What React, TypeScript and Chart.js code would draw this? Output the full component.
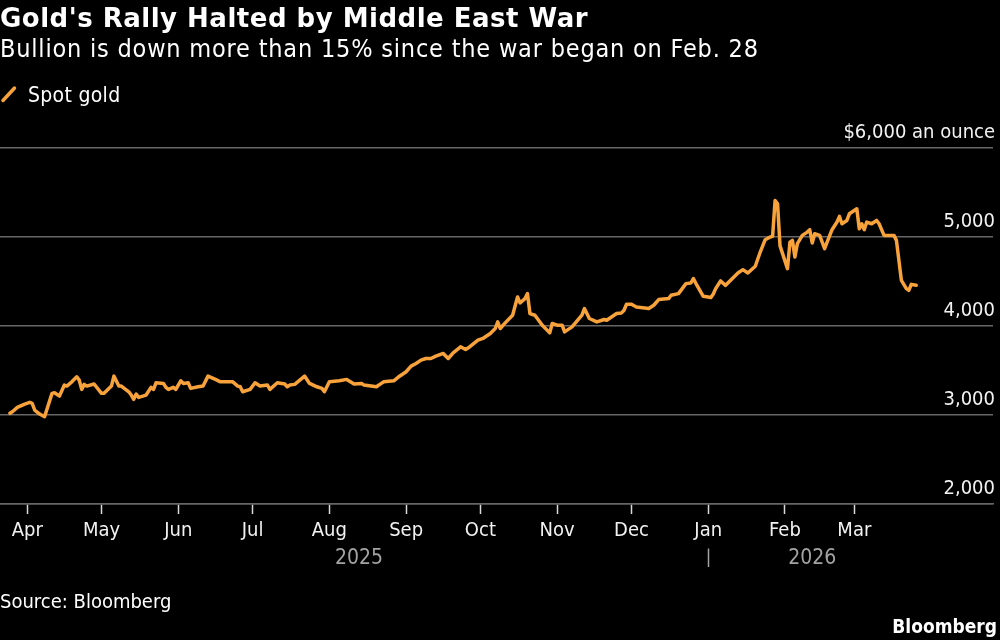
import React, { useEffect, useRef } from "react";
import { Chart, registerables } from "chart.js";

Chart.register(...registerables);

// ---------- DATA ----------
const dates: string[] = [
  "2025-03-25", "2025-03-26", "2025-03-28", "2025-03-31", "2025-04-02", "2025-04-03", "2025-04-04",
  "2025-04-06", "2025-04-08", "2025-04-11", "2025-04-12", "2025-04-14", "2025-04-16", "2025-04-17",
  "2025-04-19", "2025-04-21", "2025-04-22", "2025-04-23", "2025-04-24", "2025-04-25", "2025-04-28",
  "2025-05-01", "2025-05-02", "2025-05-05", "2025-05-06", "2025-05-08", "2025-05-09", "2025-05-12",
  "2025-05-13", "2025-05-14", "2025-05-15", "2025-05-16", "2025-05-19", "2025-05-21", "2025-05-22",
  "2025-05-23", "2025-05-26", "2025-05-27", "2025-05-28", "2025-05-30", "2025-05-31", "2025-06-02",
  "2025-06-03", "2025-06-05", "2025-06-06", "2025-06-09", "2025-06-11", "2025-06-13", "2025-06-16",
  "2025-06-18", "2025-06-23", "2025-06-25", "2025-06-26", "2025-06-27", "2025-06-30", "2025-07-02",
  "2025-07-04", "2025-07-07", "2025-07-08", "2025-07-11", "2025-07-14", "2025-07-15", "2025-07-16",
  "2025-07-18", "2025-07-22", "2025-07-24", "2025-07-27", "2025-07-29", "2025-07-30", "2025-08-01",
  "2025-08-05", "2025-08-08", "2025-08-11", "2025-08-14", "2025-08-15", "2025-08-20", "2025-08-22",
  "2025-08-23", "2025-08-27", "2025-08-29", "2025-08-31", "2025-09-01", "2025-09-03", "2025-09-05",
  "2025-09-07", "2025-09-09", "2025-09-11", "2025-09-13", "2025-09-16", "2025-09-18", "2025-09-20",
  "2025-09-23", "2025-09-25", "2025-09-26", "2025-09-30", "2025-10-02", "2025-10-05", "2025-10-07",
  "2025-10-08", "2025-10-09", "2025-10-11", "2025-10-14", "2025-10-16", "2025-10-17", "2025-10-19",
  "2025-10-20", "2025-10-21", "2025-10-23", "2025-10-26", "2025-10-29", "2025-10-30", "2025-11-01",
  "2025-11-03", "2025-11-04", "2025-11-07", "2025-11-11", "2025-11-12", "2025-11-14", "2025-11-17",
  "2025-11-20", "2025-11-21", "2025-11-25", "2025-11-27", "2025-11-28", "2025-11-29", "2025-12-01",
  "2025-12-03", "2025-12-08", "2025-12-10", "2025-12-12", "2025-12-16", "2025-12-17", "2025-12-20",
  "2025-12-23", "2025-12-25", "2025-12-26", "2025-12-27", "2025-12-30", "2026-01-01", "2026-01-02",
  "2026-01-03", "2026-01-04", "2026-01-06", "2026-01-08", "2026-01-13", "2026-01-15", "2026-01-17",
  "2026-01-20", "2026-01-22", "2026-01-24", "2026-01-26", "2026-01-27", "2026-01-28", "2026-01-29",
  "2026-01-30", "2026-02-02", "2026-02-03", "2026-02-04", "2026-02-05", "2026-02-06", "2026-02-08",
  "2026-02-10", "2026-02-11", "2026-02-12", "2026-02-13", "2026-02-15", "2026-02-17", "2026-02-18",
  "2026-02-20", "2026-02-22", "2026-02-23", "2026-02-24", "2026-02-26", "2026-02-27", "2026-03-02",
  "2026-03-03", "2026-03-04", "2026-03-05", "2026-03-06", "2026-03-08", "2026-03-10", "2026-03-11",
  "2026-03-13", "2026-03-17", "2026-03-18", "2026-03-20", "2026-03-22", "2026-03-23", "2026-03-24",
  "2026-03-26",
];

const spotGold: number[] = [
  3019, 3037, 3086, 3123, 3142, 3131, 3056,
  3011, 2981, 3243, 3250, 3213, 3336, 3325,
  3373, 3429, 3392, 3288, 3344, 3325, 3348,
  3243, 3243, 3325, 3437, 3325, 3325, 3261,
  3224, 3176, 3235, 3198, 3224, 3311, 3288,
  3362, 3355, 3311, 3288, 3311, 3288, 3384,
  3355, 3362, 3299, 3317, 3325, 3437, 3400,
  3373, 3373, 3325, 3317, 3261, 3288, 3362,
  3325, 3336, 3288, 3362, 3348, 3317, 3336,
  3344, 3437, 3355, 3317, 3299, 3261, 3373,
  3384, 3400, 3348, 3355, 3336, 3317, 3355,
  3373, 3384, 3429, 3467, 3486, 3549, 3579,
  3617, 3635, 3635, 3661, 3692, 3635, 3699,
  3766, 3736, 3752, 3841, 3860, 3916, 3972,
  4046, 3972, 4035, 4121, 4326, 4259, 4308,
  4364, 4140, 4121, 4009, 3923, 4028, 4009,
  4009, 3934, 3990, 4121, 4196, 4084, 4046,
  4073, 4065, 4140, 4147, 4177, 4244, 4244,
  4214, 4196, 4233, 4297, 4308, 4345, 4364,
  4476, 4483, 4533, 4480, 4334, 4326, 4319,
  4357, 4420, 4506, 4457, 4596, 4633, 4596,
  4671, 4831, 4970, 5000, 5007, 5410, 5373,
  4900, 4645, 4943, 4962, 4775, 4925, 5018,
  5055, 5082, 4932, 5037, 5018, 4869, 4943,
  5082, 5168, 5231, 5149, 5186, 5261, 5317,
  5093, 5149, 5082, 5168, 5149, 5186, 5149,
  5018, 5018, 4962, 4513, 4420, 4401, 4468,
  4457,
];

const monthTickDates: string[] = [
  "2025-04-01", "2025-05-01", "2025-06-01", "2025-07-01", "2025-08-01", "2025-09-01",
  "2025-10-01", "2025-11-01", "2025-12-01", "2026-01-01", "2026-02-01", "2026-03-01",
];
const monthTickLabels: string[] = [
  "Apr", "May", "Jun", "Jul", "Aug", "Sep", "Oct", "Nov", "Dec", "Jan", "Feb", "Mar",
];
const yearLabels: string[] = ["2025", "2026"];
const yearBreakDate = "2026-01-01";
const yTickValues: number[] = [2000, 3000, 4000, 5000, 6000];
const yTopLabel = "$6,000 an ounce";
const xRange: string[] = ["2025-03-21", "2026-04-26"];

const TITLE = "Gold's Rally Halted by Middle East War";
const SUBTITLE = "Bullion is down more than 15% since the war began on Feb. 28";
const SERIES_LABEL = "Spot gold";
const SOURCE = "Source: Bloomberg";
const BRAND = "Bloomberg";

// ---------- STYLE ----------
const ORANGE = "#f7a23b";
const GRID = "#666666";
const FAMILY = '"DejaVu Sans Condensed", "DejaVu Sans", sans-serif';
const TITLE_FAMILY = '"DejaVu Sans", sans-serif';

const toTime = (s: string) => {
  const [y, m, d] = s.split("-").map(Number);
  return Date.UTC(y, m - 1, d);
};

const decorPlugin = {
  id: "decor",
  beforeDraw(chart: any) {
    const { ctx, width, height } = chart;
    ctx.save();
    ctx.fillStyle = "#000";
    ctx.fillRect(0, 0, width, height);
    ctx.restore();
  },
  afterDraw(chart: any) {
    const ctx: CanvasRenderingContext2D = chart.ctx;
    ctx.save();
    ctx.textBaseline = "alphabetic";
    ctx.textAlign = "left";
    ctx.fillStyle = "#ffffff";

    // title
    ctx.font = `bold 26px ${TITLE_FAMILY}`;
    (ctx as any).letterSpacing = "0.5px";
    ctx.fillText(TITLE, 0, 27);

    // subtitle
    ctx.font = `25px ${FAMILY}`;
    (ctx as any).letterSpacing = "0.8px";
    ctx.fillText(SUBTITLE, 0, 57);

    // legend
    const ds = chart.data.datasets[0];
    ctx.strokeStyle = ds.borderColor;
    ctx.lineWidth = 3.5;
    ctx.lineCap = "round";
    ctx.beginPath();
    ctx.moveTo(3, 100.5);
    ctx.lineTo(14.5, 88);
    ctx.stroke();
    ctx.font = `21px ${FAMILY}`;
    (ctx as any).letterSpacing = "0.3px";
    ctx.fillText(ds.label, 28, 102);
    (ctx as any).letterSpacing = "0px";

    // year labels
    const xs = chart.scales.x;
    const firstX = xs.getPixelForValue(toTime(dates[0]));
    const lastX = xs.getPixelForValue(toTime(dates[dates.length - 1]));
    const breakX = xs.getPixelForValue(toTime(yearBreakDate));
    ctx.fillStyle = "#a3a3a3";
    ctx.font = `21px ${FAMILY}`;
    ctx.textAlign = "center";
    ctx.fillText(yearLabels[0], (firstX + breakX) / 2, 563.5);
    ctx.fillText(yearLabels[1], (breakX + lastX) / 2, 563.5);
    ctx.strokeStyle = "#a3a3a3";
    ctx.lineWidth = 1.5;
    ctx.lineCap = "butt";
    ctx.beginPath();
    ctx.moveTo(Math.round(breakX) + 0.5, 548.5);
    ctx.lineTo(Math.round(breakX) + 0.5, 567);
    ctx.stroke();

    // footer
    ctx.fillStyle = "#ffffff";
    ctx.textAlign = "left";
    ctx.font = `20px ${FAMILY}`;
    ctx.fillText(SOURCE, 0, 607.5);
    ctx.textAlign = "right";
    ctx.font = `bold 19px ${FAMILY}`;
    ctx.fillText(BRAND, 997, 633);
    ctx.restore();
  },
};

export default function App() {
  const canvasRef = useRef<HTMLCanvasElement | null>(null);

  useEffect(() => {
    document.body.style.margin = "0";
    document.body.style.background = "#000";
    const canvas = canvasRef.current;
    if (!canvas) return;

    const chart = new Chart(canvas, {
      type: "line",
      data: {
        datasets: [
          {
            label: SERIES_LABEL,
            data: dates.map((d, i) => ({ x: toTime(d), y: spotGold[i] })),
            borderColor: ORANGE,
            borderWidth: 3.5,
            pointRadius: 0,
            tension: 0,
            borderJoinStyle: "round",
            borderCapStyle: "round",
          },
        ],
      },
      options: {
        animation: false,
        responsive: false,
        maintainAspectRatio: false,
        events: [],
        layout: { padding: { top: 148, bottom: 92, left: 0, right: 3 } },
        plugins: {
          legend: { display: false },
          title: { display: false },
          tooltip: { enabled: false },
        },
        scales: {
          x: {
            type: "linear",
            min: toTime(xRange[0]),
            max: toTime(xRange[1]),
            afterBuildTicks: (scale: any) => {
              scale.ticks = monthTickDates.map((d) => ({ value: toTime(d) }));
            },
            ticks: {
              autoSkip: false,
              maxRotation: 0,
              padding: 5,
              color: "#f2f2f2",
              font: { family: FAMILY, size: 20 },
              callback: (_v: any, i: number) => monthTickLabels[i],
            },
            grid: {
              display: true,
              drawOnChartArea: false,
              drawTicks: true,
              tickLength: 10,
              tickColor: "#d9d9d9",
              tickWidth: 1.5,
            },
            border: { display: true, color: GRID, width: 1.5 },
          },
          y: {
            position: "right",
            min: 2000,
            max: 6000,
            afterBuildTicks: (scale: any) => {
              scale.ticks = yTickValues.map((v) => ({ value: v }));
            },
            ticks: {
              mirror: true,
              padding: 2,
              labelOffset: -15,
              color: "#f2f2f2",
              font: { family: FAMILY, size: 20 },
              callback: (v: any) =>
                Number(v) === 6000 ? yTopLabel : Number(v).toLocaleString("en-US"),
            },
            grid: { color: GRID, lineWidth: 1.5, drawTicks: false },
            border: { display: false },
          },
        },
      },
      plugins: [decorPlugin],
    } as any);

    return () => chart.destroy();
  }, []);

  return (
    <div style={{ position: "fixed", left: 0, top: 0, width: 1000, height: 640, background: "#000" }}>
      <canvas ref={canvasRef} width={1000} height={640} style={{ display: "block", width: 1000, height: 640 }} />
    </div>
  );
}
